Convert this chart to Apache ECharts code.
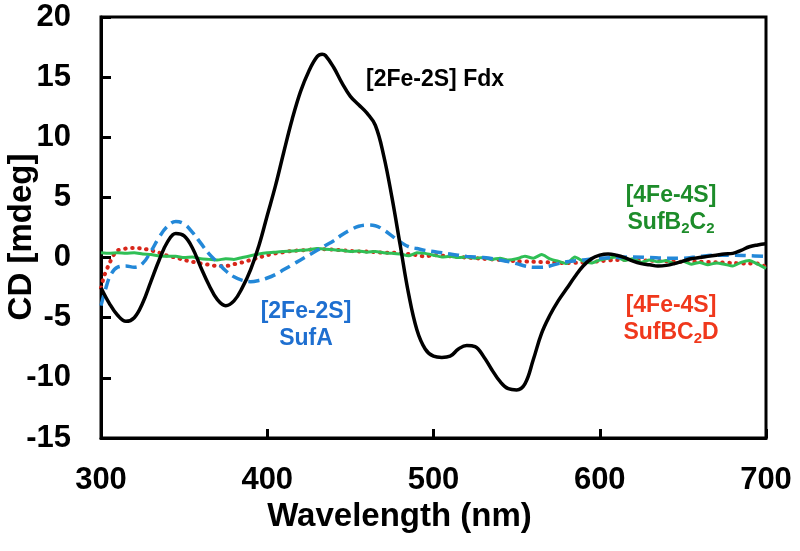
<!DOCTYPE html>
<html>
<head>
<meta charset="utf-8">
<script src="https://cdn.jsdelivr.net/npm/echarts@6/dist/echarts.min.js"></script>
<style>html,body{margin:0;padding:0;background:#fff}#c{width:800px;height:551px}</style>
</head>
<body>
<div id="c"></div>
<script>
// ---- data ----
var xTicks = [300, 400, 500, 600, 700];
var yTicks = [-15, -10, -5, 0, 5, 10, 15, 20];

var fdxX = [300,305,310,315,320,325,330,335,340,345,350,355,360,365,370,375,380,385,390,395,400,405,410,415,420,425,430,433,435,440,445,450,455,460,465,470,475,480,485,490,495,500,505,510,515,520,525,530,535,540,545,550,555,560,565,570,575,580,585,590,595,600,605,610,615,620,625,630,635,640,645,650,655,660,665,670,675,680,685,690,695,700];
var fdxY = [-2.5,-3.8,-4.8,-5.3,-5.0,-3.8,-2.0,-0.2,1.3,2.0,1.8,0.8,-0.8,-2.3,-3.5,-4.0,-3.6,-2.5,-1.0,1.0,3.5,6.0,8.8,11.5,13.8,15.5,16.7,16.9,16.8,15.8,14.5,13.4,12.7,12.0,11.0,8.5,5.0,1.0,-3.0,-6.0,-7.6,-8.2,-8.3,-8.2,-7.6,-7.3,-7.4,-8.2,-9.3,-10.3,-10.9,-11.0,-10.5,-8.5,-6.3,-4.8,-3.6,-2.6,-1.6,-0.7,-0.1,0.2,0.3,0.2,0.0,-0.3,-0.5,-0.6,-0.7,-0.65,-0.5,-0.3,-0.1,0.0,0.1,0.2,0.3,0.35,0.6,0.9,1.05,1.15];

var sufAX = [300,303,306,310,315,320,325,330,335,340,345,350,355,360,365,370,375,380,385,390,395,400,405,410,415,420,425,430,435,440,445,450,455,460,465,470,475,480,485,490,495,500,505,510,520,530,540,550,555,560,565,570,575,580,590,600,610,620,630,640,650,660,670,680,690,700];
var sufAY = [-4.0,-2.5,-1.4,-0.8,-0.7,-0.8,-0.5,0.5,1.7,2.6,3.0,2.8,2.1,1.2,0.3,-0.4,-1.1,-1.6,-1.9,-2.0,-1.9,-1.7,-1.4,-1.0,-0.6,-0.2,0.2,0.6,1.0,1.4,1.9,2.3,2.6,2.7,2.65,2.3,1.8,1.3,0.9,0.75,0.6,0.5,0.4,0.3,0.1,0.0,-0.2,-0.5,-0.7,-0.8,-0.8,-0.7,-0.5,-0.35,-0.2,-0.05,0.0,0.05,0.0,-0.05,-0.05,0.1,0.2,0.2,0.15,0.1];

var b2c2X = [300,305,310,315,320,325,330,335,340,345,350,355,360,365,370,375,380,385,390,395,400,405,410,415,420,425,430,435,440,445,450,455,460,465,470,475,480,485,490,495,500,505,510,515,520,525,530,535,540,545,550,555,560,565,570,575,580,585,590,595,600,605,610,615,620,625,630,635,640,645,650,655,660,665,670,675,680,685,690,695,700];
var b2c2Y = [0.4,0.35,0.4,0.35,0.4,0.3,0.25,0.15,0.1,0.1,0.0,0.05,-0.1,-0.15,-0.2,-0.1,-0.15,0.0,0.15,0.3,0.4,0.45,0.5,0.55,0.6,0.65,0.75,0.7,0.65,0.6,0.5,0.55,0.45,0.5,0.4,0.35,0.3,0.15,0.4,0.35,0.2,0.05,0.1,0.0,0.05,-0.05,0.0,-0.15,-0.05,-0.2,-0.1,0.1,-0.05,0.25,-0.1,-0.3,-0.5,0.05,-0.3,-0.45,-0.2,-0.05,0.05,-0.25,-0.1,-0.4,-0.2,-0.35,-0.25,-0.5,-0.3,-0.55,-0.4,-0.6,-0.45,-0.55,-0.7,-0.4,-0.25,-0.55,-0.9];

var bc2dX = [300,302,305,308,310,315,320,325,330,335,340,345,350,355,360,365,370,375,380,385,390,395,400,405,410,415,420,425,430,435,440,445,450,455,460,465,470,475,480,485,490,495,500,510,520,530,540,550,560,570,580,590,600,610,620,630,640,650,660,670,680,690,695,700];
var bc2dY = [-2.5,-1.5,-0.5,0.3,0.6,0.75,0.8,0.75,0.6,0.4,0.15,0.0,-0.2,-0.35,-0.5,-0.6,-0.7,-0.7,-0.55,-0.4,-0.2,0.0,0.2,0.35,0.45,0.55,0.6,0.65,0.7,0.7,0.65,0.6,0.55,0.5,0.5,0.45,0.4,0.4,0.35,0.3,0.2,0.1,0.2,0.1,0.0,-0.1,-0.2,-0.3,-0.35,-0.4,-0.45,-0.4,-0.3,-0.2,-0.2,-0.25,-0.3,-0.35,-0.35,-0.4,-0.45,-0.5,-0.5,-0.8];

function zip(xs, ys) { return xs.map(function (x, i) { return [x, ys[i]]; }); }

var FONT = '"Liberation Sans", Arial, Helvetica, sans-serif';
var chart = echarts.init(document.getElementById('c'), null, { renderer: 'canvas' });

var annSize = 23;
function annStyle(color) {
  return {
    n: { fontSize: annSize, fontWeight: 'bold', fontFamily: FONT, fill: color, lineHeight: 27 },
    s: { fontSize: 15, fontWeight: 'bold', fontFamily: FONT, fill: color, padding: [12, 0, 0, 0], lineHeight: 27 }
  };
}

chart.setOption({
  animation: false,
  backgroundColor: '#fff',
  grid: { left: 101, right: 34, top: 17, bottom: 113, containLabel: false, outerBoundsMode: 'none',
          show: true, borderColor: '#000', borderWidth: 3, backgroundColor: 'transparent' },
  xAxis: {
    type: 'value', min: xTicks[0], max: xTicks[xTicks.length - 1], interval: 100,
    name: 'Wavelength (nm)', nameLocation: 'middle', nameGap: 53,
    nameTextStyle: { fontSize: 33, fontWeight: 'bold', fontFamily: FONT, color: '#000', padding: [0, 68, 0, 0] },
    axisLine: { show: true, onZero: false, lineStyle: { color: '#000', width: 3 } },
    axisTick: { show: true, inside: true, length: 9, lineStyle: { color: '#000', width: 3 } },
    axisLabel: { fontSize: 31, fontWeight: 'bold', fontFamily: FONT, color: '#000', margin: 27 },
    splitLine: { show: false }
  },
  yAxis: {
    type: 'value', min: yTicks[0], max: yTicks[yTicks.length - 1], interval: 5,
    name: 'CD [mdeg]', nameLocation: 'middle', nameGap: 63, nameMoveOverlap: false,
    nameTextStyle: { fontSize: 33, fontWeight: 'bold', fontFamily: FONT, color: '#000', padding: [0, 19, 0, 0] },
    axisLine: { show: true, onZero: false, lineStyle: { color: '#000', width: 3 } },
    axisTick: { show: true, inside: true, length: 10, lineStyle: { color: '#000', width: 3 } },
    axisLabel: { fontSize: 31, fontWeight: 'bold', fontFamily: FONT, color: '#000', margin: 30 },
    splitLine: { show: false }
  },
  series: [
    { name: 'SufBC2D', type: 'line', data: zip(bc2dX, bc2dY), smooth: 0.3, showSymbol: false,
      lineStyle: { color: '#d8261a', width: 4, type: [0.5, 6.5], cap: 'round' } },
    { name: 'SufB2C2', type: 'line', data: zip(b2c2X, b2c2Y), smooth: 0.2, showSymbol: false,
      lineStyle: { color: '#2fbf55', width: 3 } },
    { name: 'SufA', type: 'line', data: zip(sufAX, sufAY), smooth: 0.4, showSymbol: false,
      lineStyle: { color: '#2388d8', width: 3.5, type: [11, 6] } },
    { name: 'Fdx', type: 'line', data: zip(fdxX, fdxY), smooth: 0.4, showSymbol: false,
      lineStyle: { color: '#000', width: 3.5 } }
  ],
  graphic: [
    { type: 'text', left: 366, top: 68, style: { text: '[2Fe-2S] Fdx', font: 'bold ' + annSize + 'px ' + FONT, fill: '#000' } },
    { type: 'text', x: 671, y: 182, style: { text: '{n|[4Fe-4S]}\n{n|SufB}{s|2}{n|C}{s|2}', align: 'center', rich: annStyle('#1d8c2a') } },
    { type: 'text', x: 306, y: 298, style: { text: '{n|[2Fe-2S]}\n{n|SufA}', align: 'center', rich: annStyle('#1e6fd0') } },
    { type: 'text', x: 671, y: 292, style: { text: '{n|[4Fe-4S]}\n{n|SufBC}{s|2}{n|D}', align: 'center', rich: annStyle('#f0381c') } }
  ]
});
</script>
</body>
</html>
